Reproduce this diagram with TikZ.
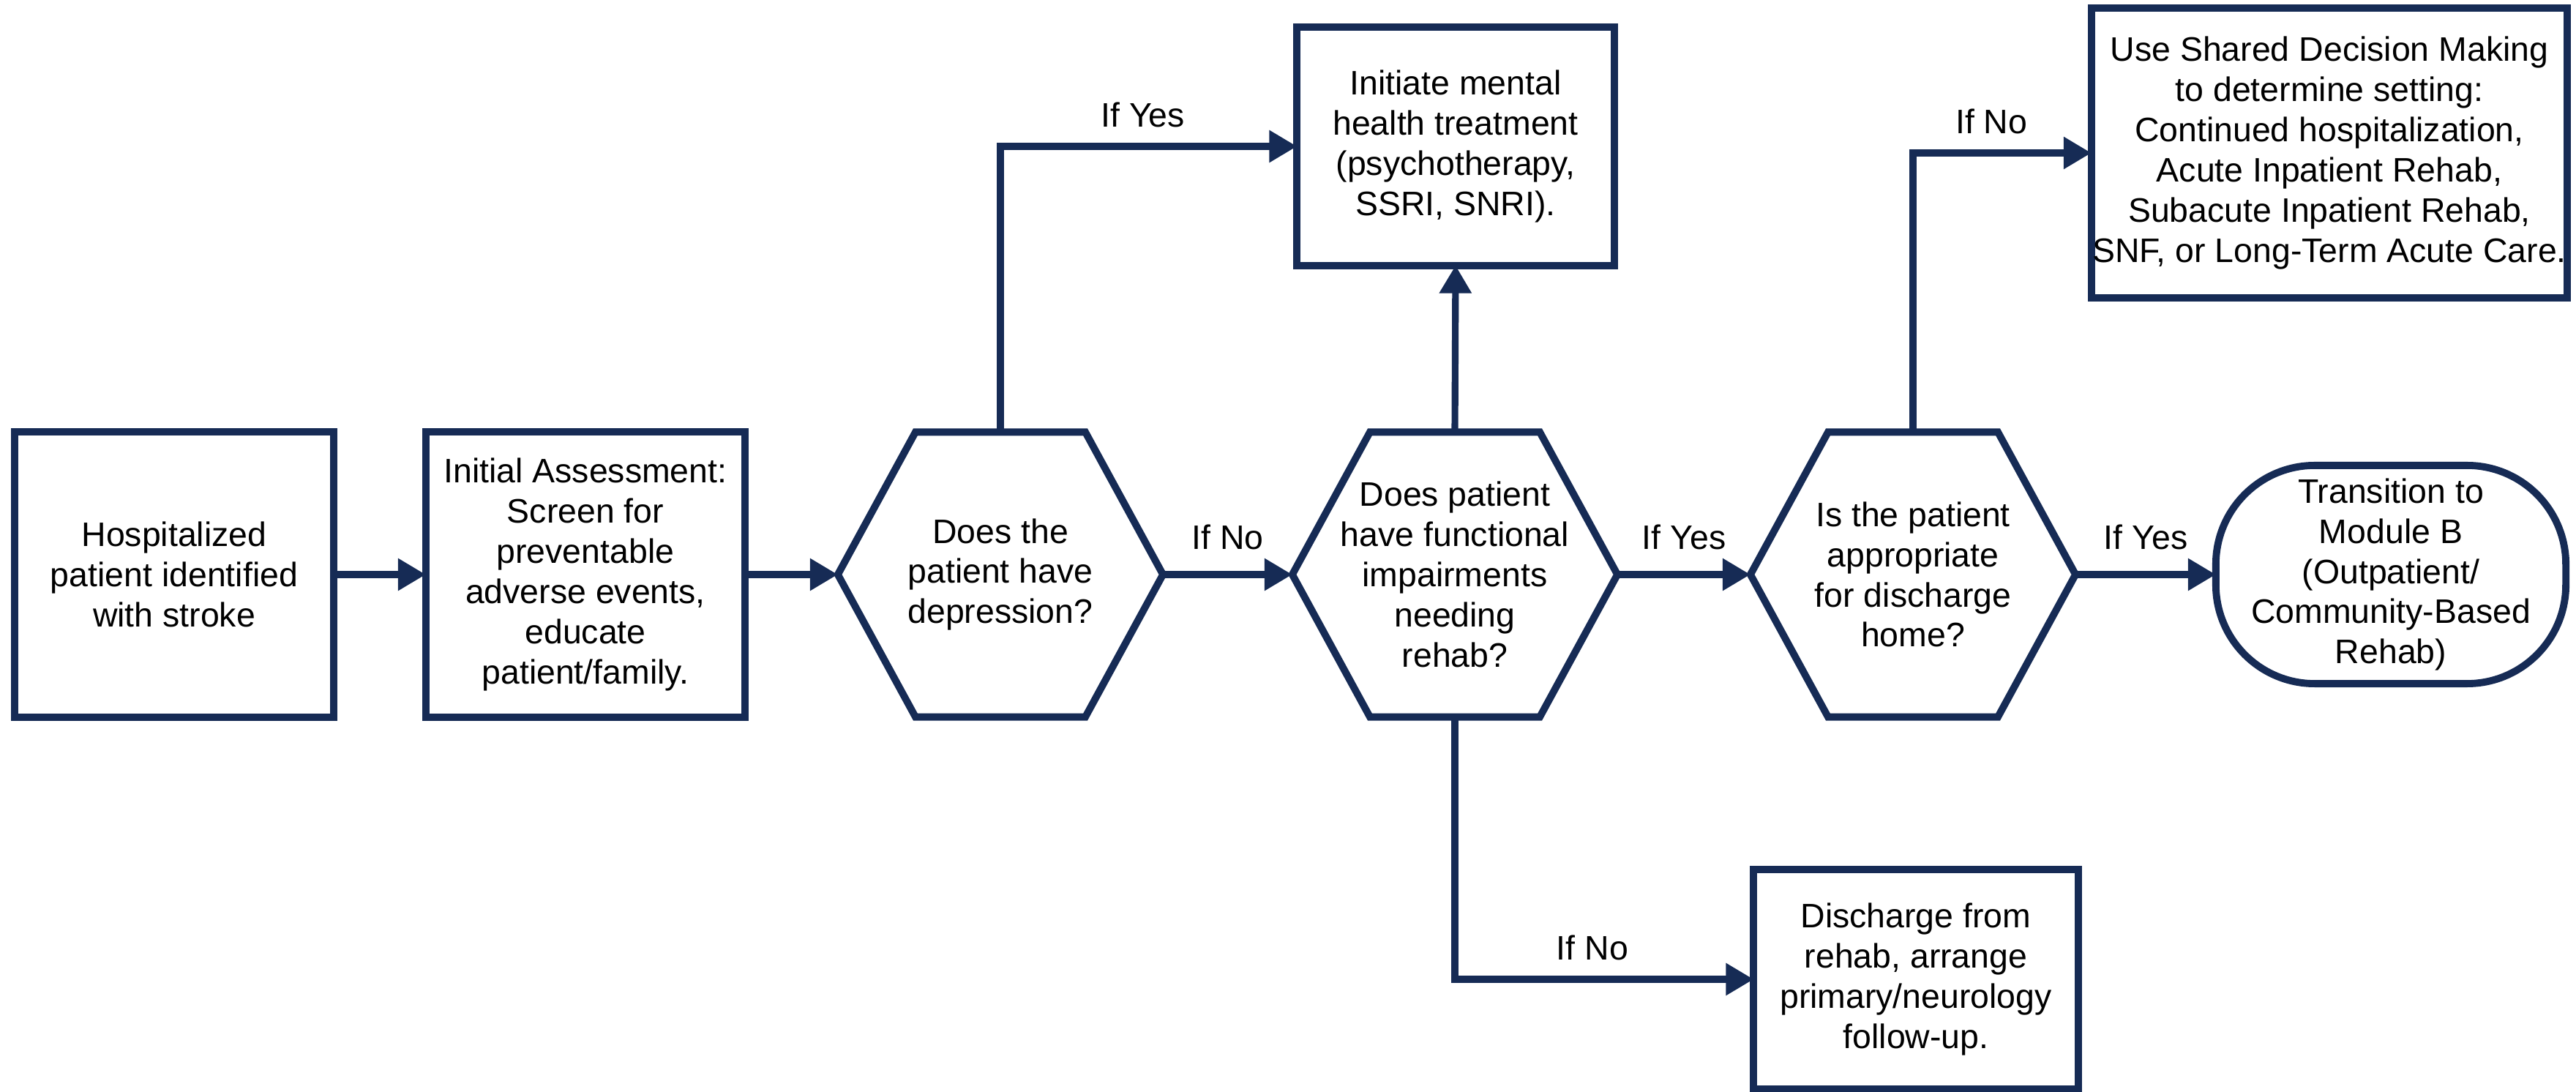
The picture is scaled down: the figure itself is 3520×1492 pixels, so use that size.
\documentclass[tikz,border=0pt]{standalone}
\usepackage{fontspec}
\setmainfont{Liberation Sans}
\usetikzlibrary{arrows.meta,shapes.misc}
\definecolor{navy}{RGB}{22,43,85}
\newcommand\fsz{\fontsize{13.2}{15.6}\selectfont}
\newcommand\hexshape[1]{\draw[hexline] (#1.west) -- ([xshift=1.06cm]#1.north west) -- ([xshift=-1.06cm]#1.north east) -- (#1.east) -- ([xshift=-1.06cm]#1.south east) -- ([xshift=1.06cm]#1.south west) -- cycle;}
\tikzset{
  box/.style={draw=navy, line width=2.8pt, fill=white, align=center, inner sep=0pt, outer sep=0pt, font=\fsz, text=black},
  hexnode/.style={align=center, inner sep=0pt, outer sep=0pt, minimum width=4.44cm, minimum height=3.89cm, font=\fsz, text=black},
  hexline/.style={draw=navy, line width=2.8pt, line join=miter},
  conn/.style={draw=navy, line width=2.6pt, -{Triangle[length=0.38cm,width=0.42cm]}},
  lbl/.style={font=\fsz, inner sep=0pt, text=black},
}
\begin{document}
\begin{tikzpicture}[x=0.01cm,y=-0.01cm]
\fill[white] (0,0) rectangle (3520,1492);
\useasboundingbox (0,0) rectangle (3520,1492);

\node[box, minimum width=4.36cm, minimum height=3.89cm] (start) at (238,785) {Hospitalized\\patient identified\\with stroke};
\node[box, minimum width=4.36cm, minimum height=3.89cm] (assess) at (800,785) {Initial Assessment:\\Screen for\\preventable\\adverse events,\\educate\\patient/family.};
\node[hexnode] (dep) at (1367,785) {Does the\\patient have\\depression?};
\node[hexnode] (func) at (1988,785) {Does patient\\have functional\\impairments\\needing\\rehab?};
\node[hexnode] (home) at (2614,785) {Is the patient\\appropriate\\for discharge\\home?};
\node[box, rounded corners=1.35cm, minimum width=4.78cm, minimum height=2.98cm] (trans) at (3267,785) {Transition to\\Module B\\(Outpatient/\\Community-Based\\Rehab)};
\node[box, minimum width=4.33cm, minimum height=3.25cm] (mental) at (1989,200) {Initiate mental\\health treatment\\(psychotherapy,\\SSRI, SNRI).};
\node[box, minimum width=6.50cm, minimum height=3.95cm] (sdm) at (3183,209) {Use Shared Decision Making\\to determine setting:\\Continued hospitalization,\\Acute Inpatient Rehab,\\Subacute Inpatient Rehab,\\SNF, or Long-Term Acute Care.};
\node[box, minimum width=4.43cm, minimum height=3.00cm] (dis) at (2618,1338) {Discharge from\\rehab, arrange\\primary/neurology\\follow-up.};

\hexshape{dep}
\hexshape{func}
\hexshape{home}

\draw[conn] (start.east) -- (assess.west);
\draw[conn] (assess.east) -- (dep.west);
\draw[conn] (dep.east) -- node[lbl, above=8.5pt]{If No} (func.west);
\draw[conn] (func.east) -- node[lbl, above=8.5pt]{If Yes} (home.west);
\draw[conn] (home.east) -- node[lbl, above=8.5pt]{If Yes} (trans.west);
\draw[conn] (dep.north) |- node[lbl, above=6pt, pos=0.74]{If Yes} (mental.west);
\draw[conn] (func.north) -- (mental.south);
\draw[conn] (home.north) |- node[lbl, above=6pt, pos=0.72]{If No} (sdm.west);
\draw[conn] (func.south) |- node[lbl, above=6pt, pos=0.73]{If No} (dis.west);
\end{tikzpicture}
\end{document}
